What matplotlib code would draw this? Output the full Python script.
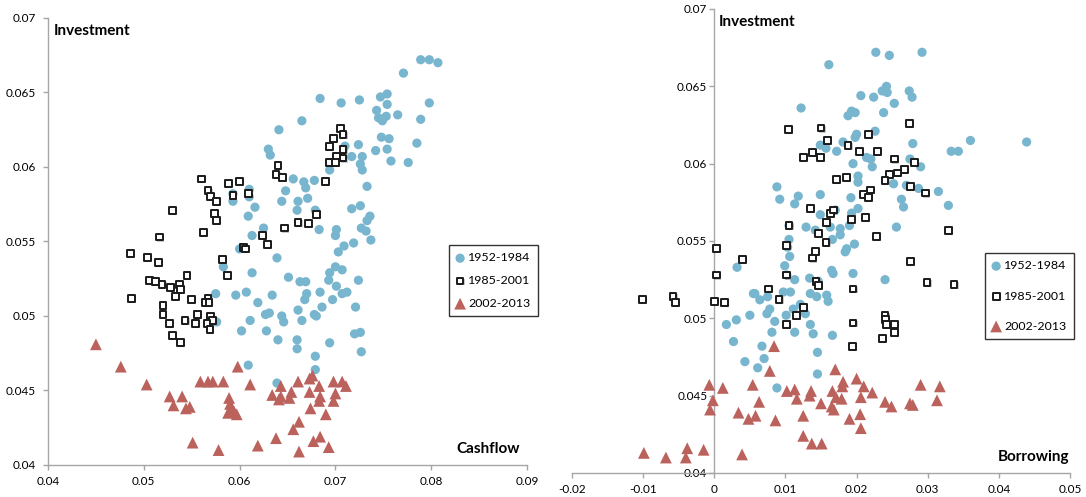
import matplotlib

matplotlib.use("Agg")
import matplotlib.patheffects as pe
import matplotlib.pyplot as plt
from matplotlib.ticker import FuncFormatter, MultipleLocator
from matplotlib.transforms import blended_transform_factory

plt.rcParams["font.family"] = ["Lato", "DejaVu Sans"]

period_labels = ["1952-1984", "1985-2001", "2002-2013"]

# cashflow vs investment
cf_early_x = [
    0.0789, 0.0798, 0.0807, 0.0771, 0.0684, 0.0706, 0.0725, 0.0747, 0.0754, 0.0754,
    0.0798, 0.0743, 0.0745, 0.0753, 0.0749, 0.0765, 0.0789, 0.0665, 0.0641, 0.0748,
    0.0756, 0.0785, 0.0724, 0.0742, 0.0754, 0.0728, 0.0717, 0.0758, 0.0776, 0.0726,
    0.0728, 0.0710, 0.0694, 0.0733, 0.0630, 0.0632, 0.0656, 0.0667, 0.0678, 0.0669,
    0.0648, 0.0671, 0.0661, 0.0644, 0.0593, 0.0610, 0.0616, 0.0726, 0.0717, 0.0679,
    0.0660, 0.0610, 0.0609, 0.0625, 0.0613, 0.0600, 0.0639, 0.0583, 0.0613, 0.0651,
    0.0663, 0.0669, 0.0683, 0.0701, 0.0733, 0.0736, 0.0727, 0.0732, 0.0737,
    0.0719, 0.0709, 0.0703, 0.0700, 0.0707, 0.0694, 0.0693, 0.0724, 0.0701, 0.0670,
    0.0668, 0.0684, 0.0697, 0.0707, 0.0712, 0.0575, 0.0596, 0.0607, 0.0634, 0.0619,
    0.0627, 0.0631, 0.0644, 0.0646, 0.0611, 0.0661, 0.0665, 0.0678, 0.0680, 0.0686,
    0.0721, 0.0602, 0.0628, 0.0640, 0.0660, 0.0694, 0.0720, 0.0726, 0.0576, 0.0660,
    0.0727, 0.0679, 0.0679, 0.0609, 0.0593, 0.0639, 0.0700,
]
cf_early_y = [
    0.0672, 0.0672, 0.0670, 0.0663, 0.0646, 0.0643, 0.0645, 0.0647, 0.0649, 0.0642,
    0.0643, 0.0638, 0.0633, 0.0634, 0.0631, 0.0635, 0.0632, 0.0631, 0.0625, 0.0620,
    0.0619, 0.0616, 0.0615, 0.0611, 0.0612, 0.0607, 0.0607, 0.0604, 0.0603, 0.0602,
    0.0598, 0.0614, 0.0598, 0.0587, 0.0612, 0.0608, 0.0592, 0.0590, 0.0591, 0.0586,
    0.0584, 0.0579, 0.0577, 0.0577, 0.0577, 0.0580, 0.0573, 0.0574, 0.0572, 0.0571,
    0.0571, 0.0585, 0.0567, 0.0559, 0.0554, 0.0545, 0.0539, 0.0533, 0.0529, 0.0526,
    0.0523, 0.0523, 0.0558, 0.0558, 0.0564, 0.0567, 0.0559, 0.0557, 0.0551,
    0.0549, 0.0547, 0.0543, 0.0533, 0.0531, 0.0529, 0.0524, 0.0524, 0.0520, 0.0515,
    0.0511, 0.0516, 0.0511, 0.0515, 0.0516, 0.0515, 0.0514, 0.0516, 0.0514, 0.0509,
    0.0501, 0.0502, 0.0500, 0.0496, 0.0497, 0.0504, 0.0497, 0.0501, 0.0500, 0.0506,
    0.0506, 0.0490, 0.0490, 0.0484, 0.0484, 0.0482, 0.0488, 0.0489, 0.0496, 0.0478,
    0.0476, 0.0473, 0.0464, 0.0467, 0.0582, 0.0455, 0.0554,
]
cf_mid_x = [
    0.0705, 0.0708, 0.0698, 0.0694, 0.0708, 0.0701, 0.0708, 0.0694, 0.0700, 0.0690,
    0.0640, 0.0638, 0.0645, 0.0560, 0.0588, 0.0600, 0.0567, 0.0570, 0.0576, 0.0593,
    0.0609, 0.0530, 0.0574, 0.0576, 0.0562, 0.0516, 0.0486, 0.0504, 0.0515, 0.0582,
    0.0587, 0.0545, 0.0506, 0.0512, 0.0519, 0.0528, 0.0537, 0.0538, 0.0533, 0.0487,
    0.0550, 0.0567, 0.0564, 0.0568, 0.0520, 0.0520, 0.0556, 0.0570, 0.0572, 0.0566,
    0.0527, 0.0543, 0.0554, 0.0569, 0.0530, 0.0538, 0.0604, 0.0606, 0.0624, 0.0629,
    0.0647, 0.0661, 0.0672, 0.0680,
]
cf_mid_y = [
    0.0626, 0.0622, 0.0619, 0.0614, 0.0612, 0.0607, 0.0606, 0.0603, 0.0603, 0.0590,
    0.0601, 0.0595, 0.0593, 0.0592, 0.0589, 0.0590, 0.0584, 0.0580, 0.0577, 0.0581,
    0.0582, 0.0571, 0.0569, 0.0564, 0.0556, 0.0553, 0.0542, 0.0539, 0.0536, 0.0538,
    0.0527, 0.0527, 0.0524, 0.0523, 0.0521, 0.0519, 0.0521, 0.0518, 0.0513, 0.0512,
    0.0511, 0.0512, 0.0509, 0.0509, 0.0507, 0.0501, 0.0501, 0.0500, 0.0497, 0.0495,
    0.0495, 0.0497, 0.0495, 0.0491, 0.0487, 0.0482, 0.0546, 0.0545, 0.0554, 0.0548,
    0.0559, 0.0563, 0.0562, 0.0568,
]
cf_late_x = [
    0.0450, 0.0476, 0.0503, 0.0527, 0.0540, 0.0531, 0.0544, 0.0548, 0.0559, 0.0567,
    0.0572, 0.0583, 0.0598, 0.0611, 0.0589, 0.0590, 0.0591, 0.0588, 0.0597, 0.0594,
    0.0551, 0.0578, 0.0619, 0.0638, 0.0634, 0.0643, 0.0643, 0.0641, 0.0652, 0.0654,
    0.0661, 0.0673, 0.0676, 0.0683, 0.0673, 0.0684, 0.0674, 0.0690, 0.0698, 0.0707,
    0.0711, 0.0700, 0.0698, 0.0662, 0.0656, 0.0684, 0.0677, 0.0693, 0.0662, 0.0683,
]
cf_late_y = [
    0.0481, 0.0466, 0.0454, 0.0446, 0.0446, 0.0440, 0.0438, 0.0439, 0.0456, 0.0456,
    0.0456, 0.0456, 0.0466, 0.0454, 0.0445, 0.0441, 0.0437, 0.0435, 0.0434, 0.0436,
    0.0415, 0.0410, 0.0413, 0.0418, 0.0447, 0.0453, 0.0446, 0.0444, 0.0445, 0.0449,
    0.0456, 0.0458, 0.0460, 0.0453, 0.0449, 0.0446, 0.0438, 0.0434, 0.0456, 0.0456,
    0.0453, 0.0448, 0.0443, 0.0429, 0.0424, 0.0419, 0.0416, 0.0412, 0.0409, 0.0443,
]

# borrowing vs investment
br_early_x = [
    0.0227, 0.0246, 0.0292, 0.0161, 0.0242, 0.0236, 0.0243, 0.0206, 0.0224, 0.0274,
    0.0278, 0.0253, 0.0122, 0.0193, 0.0188, 0.0198, 0.0238, 0.0226, 0.0200, 0.0198,
    0.0181, 0.0149, 0.0157, 0.0172, 0.0279, 0.0360, 0.0439, 0.0333, 0.0343, 0.0214,
    0.0220, 0.0195, 0.0222, 0.0275, 0.0290, 0.0202, 0.0202, 0.0252, 0.0270, 0.0287,
    0.0315, 0.0088, 0.0092, 0.0118, 0.0149, 0.0192, 0.0263, 0.0113, 0.0149, 0.0170,
    0.0193, 0.0202, 0.0266, 0.0256, 0.0329, 0.0105, 0.0129, 0.0142, 0.0163, 0.0177,
    0.0177, 0.0190, 0.0166, 0.0105, 0.0103, 0.0106, 0.0099, 0.0113, 0.0134, 0.0146,
    0.0165, 0.0167, 0.0184, 0.0186, 0.0197, 0.0195, 0.0240, 0.0032, 0.0057, 0.0064,
    0.0075, 0.0097, 0.0107, 0.0135, 0.0144, 0.0158, 0.0160, 0.0121, 0.0078, 0.0074,
    0.0050, 0.0031, 0.0017, 0.0085, 0.0101, 0.0135, 0.0113, 0.0139, 0.0166, 0.0081,
    0.0027, 0.0067, 0.0070, 0.0043, 0.0061, 0.0145, 0.0145, 0.0088, 0.0111, 0.0128,
    0.0055, 0.0102,
]
br_early_y = [
    0.0672, 0.0670, 0.0672, 0.0664, 0.0650, 0.0647, 0.0646, 0.0644, 0.0643, 0.0647,
    0.0643, 0.0639, 0.0636, 0.0634, 0.0631, 0.0633, 0.0633, 0.0621, 0.0619, 0.0617,
    0.0614, 0.0612, 0.0610, 0.0608, 0.0613, 0.0615, 0.0614, 0.0608, 0.0608, 0.0604,
    0.0603, 0.0600, 0.0598, 0.0603, 0.0598, 0.0592, 0.0588, 0.0587, 0.0586, 0.0584,
    0.0582, 0.0585, 0.0577, 0.0579, 0.0580, 0.0578, 0.0577, 0.0574, 0.0567, 0.0570,
    0.0568, 0.0571, 0.0572, 0.0559, 0.0573, 0.0560, 0.0559, 0.0557, 0.0559, 0.0558,
    0.0554, 0.0560, 0.0551, 0.0551, 0.0546, 0.0540, 0.0534, 0.0525, 0.0526, 0.0524,
    0.0531, 0.0529, 0.0543, 0.0545, 0.0548, 0.0529, 0.0525, 0.0533, 0.0516, 0.0512,
    0.0514, 0.0517, 0.0517, 0.0516, 0.0514, 0.0515, 0.0511, 0.0509, 0.0506, 0.0503,
    0.0502, 0.0499, 0.0496, 0.0498, 0.0502, 0.0496, 0.0491, 0.0490, 0.0489, 0.0491,
    0.0485, 0.0482, 0.0474, 0.0472, 0.0468, 0.0478, 0.0464, 0.0455, 0.0506, 0.0503,
    0.0516, 0.0528,
]
br_mid_x = [
    0.0104, 0.0150, 0.0159, 0.0274, 0.0217, 0.0188, 0.0204, 0.0229, 0.0125, 0.0138,
    0.0149, 0.0253, 0.0281, 0.0267, 0.0258, 0.0246, 0.0240, 0.0172, 0.0186, 0.0276,
    0.0297, 0.0219, 0.0210, 0.0217, 0.0135, 0.0163, 0.0168, 0.0193, 0.0213, 0.0105,
    0.0158, 0.0147, 0.0157, 0.0101, 0.0228, 0.0329, 0.0142, 0.0138, 0.0003, 0.0040,
    0.0003, 0.0102, 0.0143, 0.0147, 0.0195, 0.0276, 0.0299, 0.0337, 0.0000, 0.0014,
    0.0076, 0.0091, 0.0125, 0.0115, 0.0101, 0.0195, 0.0194, 0.0236, 0.0240, 0.0241,
    0.0242, 0.0253, 0.0253, -0.0101, -0.0058, -0.0055,
]
br_mid_y = [
    0.0622, 0.0623, 0.0615, 0.0626, 0.0619, 0.0612, 0.0608, 0.0608, 0.0604, 0.0607,
    0.0604, 0.0603, 0.0601, 0.0596, 0.0594, 0.0593, 0.0589, 0.0590, 0.0591, 0.0585,
    0.0581, 0.0583, 0.0580, 0.0578, 0.0571, 0.0568, 0.0570, 0.0564, 0.0565, 0.0560,
    0.0562, 0.0555, 0.0549, 0.0547, 0.0553, 0.0557, 0.0543, 0.0539, 0.0545, 0.0538,
    0.0528, 0.0528, 0.0524, 0.0521, 0.0519, 0.0537, 0.0523, 0.0522, 0.0511, 0.0510,
    0.0519, 0.0512, 0.0507, 0.0502, 0.0496, 0.0497, 0.0482, 0.0487, 0.0502, 0.0499,
    0.0496, 0.0496, 0.0491, 0.0512, 0.0514, 0.0510,
]
br_late_x = [
    0.0084, 0.0078, -0.0007, 0.0012, -0.0002, -0.0006, 0.0054, 0.0063, 0.0034, 0.0048,
    0.0058, 0.0086, 0.0102, 0.0113, 0.0116, 0.0136, 0.0134, 0.0150, 0.0125, 0.0125,
    0.0137, 0.0151, 0.0170, 0.0181, 0.0180, 0.0166, 0.0171, 0.0165, 0.0168, 0.0200,
    0.0210, 0.0206, 0.0222, 0.0205, 0.0190, 0.0206, 0.0240, 0.0249, 0.0275, 0.0279,
    0.0290, 0.0317, 0.0313, -0.0099, -0.0068, -0.0038, -0.0040, -0.0015, 0.0039, 0.0179,
]
br_late_y = [
    0.0482, 0.0466, 0.0457, 0.0455, 0.0447, 0.0441, 0.0457, 0.0446, 0.0439, 0.0435,
    0.0437, 0.0434, 0.0453, 0.0454, 0.0448, 0.0453, 0.0450, 0.0445, 0.0437, 0.0424,
    0.0419, 0.0419, 0.0467, 0.0459, 0.0456, 0.0453, 0.0449, 0.0443, 0.0441, 0.0461,
    0.0456, 0.0449, 0.0452, 0.0438, 0.0435, 0.0429, 0.0446, 0.0443, 0.0445, 0.0444,
    0.0457, 0.0456, 0.0447, 0.0413, 0.0410, 0.0416, 0.0410, 0.0415, 0.0412, 0.0448,
]

BLUE = "#78b5ce"
RED = "#bb625d"
AXIS_GRAY = "#a6a6a6"


def general_format(v, pos):
    return f"{round(v, 4):g}"


def draw_panel(ax, early, mid, late, xlabel, xlim, ylabel_pad, title_x, xlabel_x):
    ax.scatter(*early, s=44, marker="o", color=BLUE, edgecolors="none",
               label=period_labels[0], zorder=2)
    squares = ax.scatter(*mid, s=24, marker="s", facecolors="white",
                         edgecolors="#1a1a1a", linewidths=1.4,
                         label=period_labels[1], zorder=3)
    squares.set_path_effects([
        pe.SimplePatchShadow(offset=(0.8, -0.8), shadow_rgbFace="#888888", alpha=0.45),
        pe.Normal(),
    ])
    ax.scatter(*late, s=72, marker="^", color=RED, edgecolors="none",
               label=period_labels[2], zorder=4)

    ax.set_xlim(*xlim)
    ax.set_ylim(0.04, 0.07)
    ax.xaxis.set_major_locator(MultipleLocator(0.01))
    ax.yaxis.set_major_locator(MultipleLocator(0.005))
    ax.xaxis.set_major_formatter(FuncFormatter(general_format))
    ax.yaxis.set_major_formatter(FuncFormatter(general_format))

    ax.spines["top"].set_visible(False)
    ax.spines["right"].set_visible(False)
    for side in ["left", "bottom"]:
        ax.spines[side].set_color(AXIS_GRAY)
        ax.spines[side].set_linewidth(1.0)
    ax.tick_params(axis="both", direction="out", length=3.5, width=1.0,
                   color=AXIS_GRAY, labelsize=8.5, labelcolor="black")
    ax.tick_params(axis="y", pad=ylabel_pad)
    ax.tick_params(axis="x", pad=4.5)
    ax.set_facecolor("none")

    # "Investment" sits just right of the y axis, wherever that axis is
    trans = blended_transform_factory(ax.transData, ax.transAxes)
    ax.text(title_x, 0.972, "Investment", transform=trans, fontsize=11,
            fontweight="bold", ha="left", va="center")
    ax.text(xlabel_x, 0.035, xlabel, transform=ax.transAxes, fontsize=11,
            fontweight="bold", ha="right", va="center")


def main() -> None:
    fig = plt.figure(figsize=(10.86, 4.97), dpi=100)

    ax1 = fig.add_axes([0.0442, 0.0644, 0.4411, 0.8994])
    draw_panel(ax1, (cf_early_x, cf_early_y), (cf_mid_x, cf_mid_y),
               (cf_late_x, cf_late_y), "Cashflow", (0.04, 0.09), 5, 0.0406, 0.985)

    ax2 = fig.add_axes([0.5267, 0.0483, 0.4586, 0.9336])
    draw_panel(ax2, (br_early_x, br_early_y), (br_mid_x, br_mid_y),
               (br_late_x, br_late_y), "Borrowing", (-0.02, 0.05), 1.5, 0.0006, 0.998)
    ax2.spines["left"].set_position(("data", 0))

    for ax, anchor, spacing in [(ax1, (0.4134, 0.507), 0.95), (ax2, (0.907, 0.491), 1.55)]:
        leg = ax.legend(loc="upper left", bbox_to_anchor=anchor,
                        bbox_transform=fig.transFigure, fontsize=8.9,
                        frameon=True, fancybox=False, edgecolor="black",
                        handlelength=0.6, handletextpad=0.35, borderpad=0.6,
                        labelspacing=spacing, borderaxespad=0, scatterpoints=1)
        leg.get_frame().set_linewidth(1.0)
        leg.set_zorder(10)

    fig.savefig("out.png", dpi=100)


if __name__ == "__main__":
    main()
